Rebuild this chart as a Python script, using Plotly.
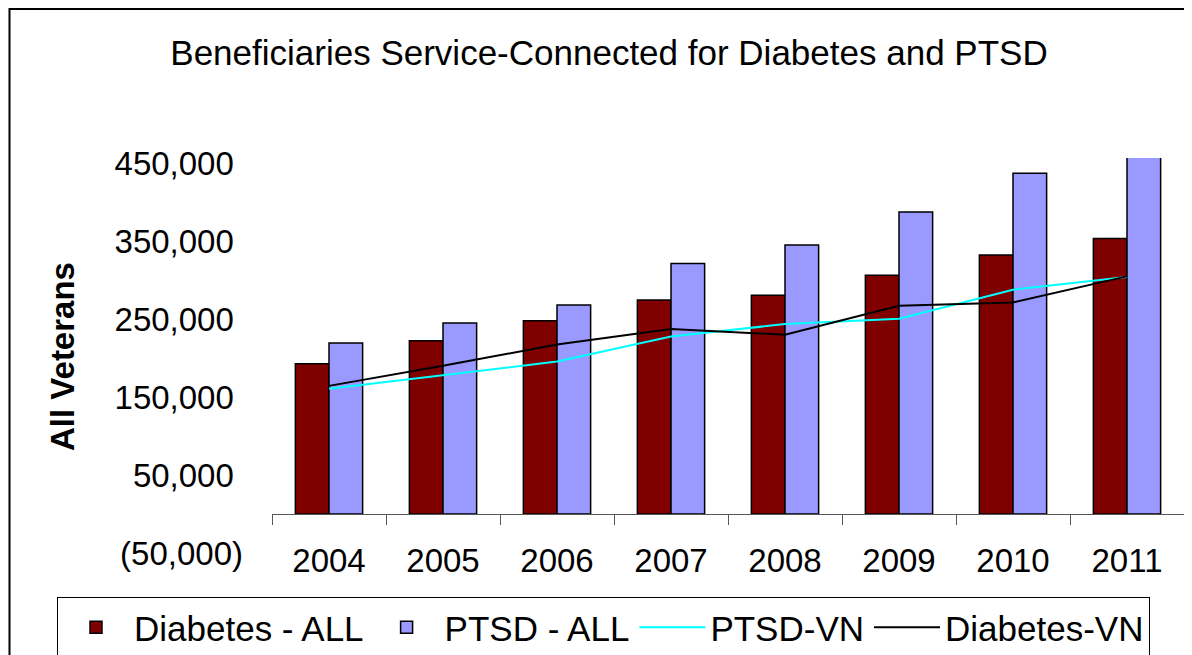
import plotly.graph_objects as go

# chart values
years = ["2004", "2005", "2006", "2007", "2008", "2009", "2010", "2011"]
diabetes_all = [193000, 222600, 248500, 275000, 281000, 306700, 333000, 354000]
ptsd_all = [219700, 245600, 268600, 322000, 345800, 388000, 438000, 470000]
ptsd_vn = [160900, 178900, 196000, 228200, 244100, 251000, 288300, 304600]
diabetes_vn = [164700, 190500, 217900, 237700, 230400, 267700, 272000, 305400]

y_ticks = [-50000, 50000, 150000, 250000, 350000, 450000]
y_tick_text = ["(50,000)", "50,000\u00a0", "150,000\u00a0", "250,000\u00a0",
               "350,000\u00a0", "450,000\u00a0"]

font_family = "Liberation Sans, Arial, sans-serif"
y_min, y_max = -50000, 457500

W, H = 1192, 655
OFF = 8  # the page body has an 8px margin, so figure px = page px - 8
L, R, T, B = 272 - OFF, 16, 158 - OFF, 110
pw, ph = W - L - R, H - T - B


def px(x):
    # page pixel column -> plot-area ("paper") fraction
    return (x - OFF - L) / pw


def py(y):
    return (H - B - (y - OFF)) / ph


fig = go.Figure()

fig.add_trace(go.Bar(x=years, y=diabetes_all, name="Diabetes - ALL",
                     marker=dict(color="#800000", line=dict(color="black", width=1.5))))
fig.add_trace(go.Bar(x=years, y=ptsd_all, name="PTSD - ALL",
                     marker=dict(color="#9999FF", line=dict(color="black", width=1.5))))
fig.add_trace(go.Scatter(x=years, y=ptsd_vn, name="PTSD-VN", mode="lines",
                         line=dict(color="#00FFFF", width=2)))
fig.add_trace(go.Scatter(x=years, y=diabetes_vn, name="Diabetes-VN", mode="lines",
                         line=dict(color="black", width=2)))

fig.update_layout(
    width=W, height=H,
    margin=dict(l=L, r=R, t=T, b=B, autoexpand=False),
    paper_bgcolor="white", plot_bgcolor="white",
    font=dict(family=font_family, size=33, color="black"),
    barmode="group", bargap=0.41, bargroupgap=0,
    title=dict(text="Beneficiaries Service-Connected for Diabetes and PTSD",
               x=601 / W, xref="container", xanchor="center",
               y=1 - 45 / H, yref="container", yanchor="middle",
               font=dict(size=35)),
    xaxis=dict(type="category", tickson="boundaries", ticks="outside", ticklen=10,
               tickcolor="#555", showline=True, linecolor="#555", linewidth=1,
               anchor="free", position=(0 - y_min) / (y_max - y_min),
               showgrid=False, ticklabelstandoff=17, automargin=False),
    yaxis=dict(range=[y_min, y_max], tickvals=y_ticks, ticktext=y_tick_text,
               showgrid=False, zeroline=False, showline=False, ticks="",
               ticklabelstandoff=28, automargin=False),
    legend=dict(orientation="h", x=px(57), xanchor="left", y=py(597), yanchor="top",
                bordercolor="black", borderwidth=1, bgcolor="white",
                font=dict(size=35), itemwidth=66, traceorder="normal"),
    showlegend=True,
)

fig.add_annotation(text="<b>All Veterans</b>", textangle=-90, showarrow=False,
                   xref="paper", yref="paper", x=px(62), y=py(357),
                   xanchor="center", yanchor="middle", font=dict(size=33))

# outer frame of the picture (it runs off the right and bottom edges)
fig.add_shape(type="rect", xref="paper", yref="paper",
              x0=px(9.5), x1=px(W + 40), y0=py(H + 40), y1=py(9),
              line=dict(color="black", width=2), fillcolor="rgba(0,0,0,0)", layer="below")

fig.write_html("out.html")
